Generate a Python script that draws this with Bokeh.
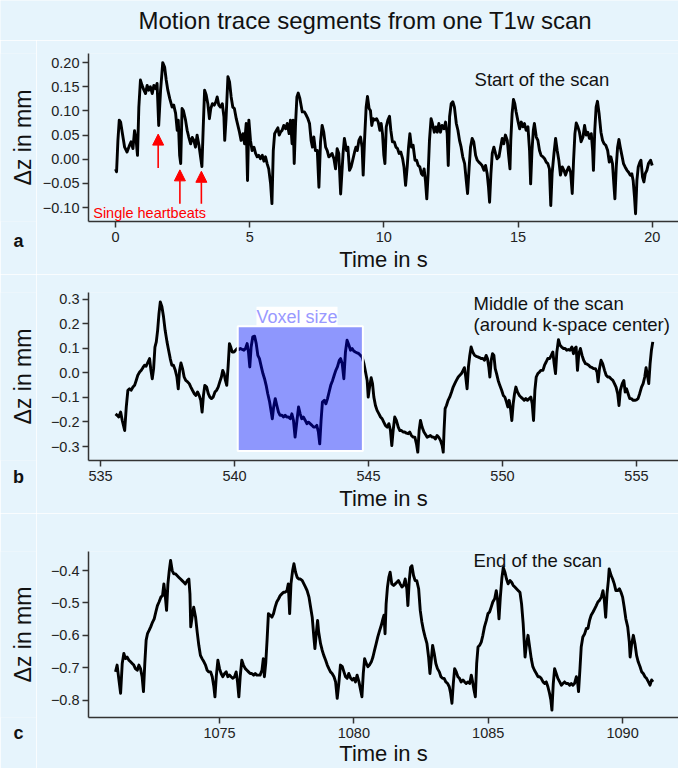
from bokeh.plotting import figure
from bokeh.layouts import column, row
from bokeh.models import (Range1d, FixedTicker, CustomJSTickFormatter, Label, Arrow,
                          NormalHead, BoxAnnotation, Plot, LinearAxis)
from bokeh.embed import file_html
from bokeh.resources import INLINE
import math

# ---------------- data ----------------
a_t = [0.00,0.04,0.09,0.14,0.19,0.25,0.34,0.43,0.51,0.58,0.65,0.71,0.77,0.82,0.87,0.93,0.99,1.06,1.12,1.18,1.24,1.30,1.37,1.43,1.50,1.55,1.61,1.68,1.73,1.76,1.83,1.89,1.95,2.02,2.11,2.17,2.24,2.30,2.34,2.39,2.43,2.48,2.53,2.61,2.67,2.73,2.80,2.86,2.92,2.98,3.04,3.11,3.17,3.22,3.27,3.32,3.38,3.44,3.50,3.55,3.61,3.68,3.74,3.79,3.85,3.91,3.98,4.04,4.07,4.12,4.19,4.25,4.31,4.37,4.43,4.50,4.56,4.62,4.68,4.75,4.81,4.87,4.92,4.97,5.03,5.09,5.16,5.22,5.28,5.34,5.40,5.47,5.53,5.59,5.65,5.71,5.78,5.83,5.88,5.93,6.00,6.05,6.10,6.15,6.21,6.27,6.34,6.40,6.47,6.52,6.58,6.62,6.66,6.71,6.76,6.81,6.87,6.96,7.04,7.11,7.17,7.23,7.29,7.34,7.39,7.45,7.52,7.58,7.64,7.70,7.76,7.83,7.89,7.95,8.01,8.07,8.14,
       8.20,8.26,8.32,8.39,8.48,8.53,8.61,8.66,8.72,8.78,8.84,8.91,8.96,9.01,9.07,9.13,9.19,9.23,9.28,9.34,9.39,9.45,9.50,9.55,9.60,9.66,9.73,9.79,9.85,9.90,9.95,10.00,10.04,10.09,10.15,10.21,10.26,10.32,10.39,10.45,10.51,10.57,10.63,10.70,10.75,10.81,10.87,10.92,10.97,11.03,11.09,11.16,11.22,11.28,11.34,11.40,11.45,11.50,11.55,11.60,11.65,11.70,11.76,11.81,11.88,11.94,11.99,12.05,12.11,12.17,12.24,12.30,12.36,12.40,12.45,12.51,12.57,12.63,12.70,12.76,12.82,12.88,12.94,13.01,13.07,13.12,13.18,13.23,13.29,13.35,13.42,13.48,13.54,13.60,13.66,13.73,13.79,13.85,13.90,13.94,13.99,14.04,14.10,14.16,14.22,14.29,14.35,14.41,14.47,14.53,14.60,14.65,14.70,14.73,14.78,14.83,14.88,14.93,14.99,15.06,15.12,15.18,15.24,15.30,15.37,15.43,15.47,15.52,15.57,15.61,15.68,15.74,15.80,15.86,15.93,15.99,16.05,16.11,16.17,16.22,16.27,16.34,16.40,16.46,16.52,16.58,16.65,16.71,16.77,16.83,16.89,16.96,17.02,17.07,17.12,17.17,17.23,17.29,17.35,17.42,17.48,17.54,17.60,17.66,17.73,17.78,17.81,17.86,17.91,17.96,18.02,18.09,18.15,18.21,18.27,18.34,18.40,18.46,18.52,18.57,18.61,18.66,18.71,18.76,18.81,18.87,18.93,18.99,19.06,19.12,19.18,19.24,19.29,19.34,19.38,19.43,19.48,19.54,19.58,19.64,19.69,19.74,19.80,19.86,19.94,20.00]
a_dz = [-0.020,-0.026,0.039,0.081,0.077,0.056,0.025,0.015,0.027,0.036,0.022,0.059,0.039,0.008,0.108,0.164,0.153,0.143,0.136,0.153,0.143,0.150,0.136,0.153,0.146,0.157,0.070,0.143,0.178,0.200,0.191,0.164,0.143,0.126,0.108,0.112,0.095,0.060,0.081,0.008,-0.009,0.105,0.101,0.081,0.060,0.046,0.032,0.045,0.039,0.025,0.050,0.029,0.005,-0.015,0.067,0.143,0.133,0.115,0.084,0.105,0.115,0.112,0.119,0.129,0.112,0.108,0.115,0.088,0.039,0.084,0.171,0.160,0.129,0.108,0.105,0.084,0.070,0.056,0.039,0.053,0.032,0.074,-0.044,0.081,0.039,0.018,0.025,0.012,0.005,0.008,0.001,0.008,-0.004,0.005,-0.009,-0.020,-0.051,-0.092,0.018,0.053,0.060,0.065,0.050,0.056,0.060,0.070,0.063,0.074,0.053,0.081,0.032,0.081,-0.009,0.074,0.129,0.137,0.126,0.098,0.098,0.091,0.084,0.074,0.039,0.025,0.046,0.018,0.018,-0.058,0.036,0.070,0.056,0.025,0.018,0.005,0.008,0.012,0.001,
        -0.020,0.022,0.012,-0.072,0.012,0.043,0.018,0.025,-0.023,-0.016,-0.002,0.015,0.025,0.018,0.039,0.046,0.025,-0.033,0.039,0.108,0.130,0.105,0.101,0.070,0.084,0.081,0.084,0.077,0.060,0.074,0.053,0.008,-0.009,0.067,0.081,0.089,0.060,0.036,0.036,0.025,0.022,0.012,0.015,0.001,-0.016,-0.054,-0.016,0.025,0.053,0.025,0.029,-0.002,-0.002,-0.013,-0.016,-0.030,-0.033,-0.020,-0.044,-0.082,-0.030,0.039,0.084,0.074,0.056,0.067,0.056,0.074,0.056,0.070,0.063,0.077,0.053,-0.013,0.088,0.115,0.119,0.108,0.074,0.060,0.039,0.025,0.005,-0.009,-0.044,-0.071,-0.016,0.025,0.043,0.036,0.008,-0.002,-0.006,-0.009,-0.013,-0.023,-0.013,-0.030,-0.058,-0.089,-0.030,0.012,0.025,0.012,0.001,0.005,0.025,0.043,0.032,0.050,0.039,0.008,-0.020,0.039,0.095,0.124,0.115,0.098,0.081,0.063,0.077,0.067,0.074,0.060,0.067,0.018,-0.051,0.018,0.060,0.074,0.046,0.039,0.018,0.008,0.005,0.001,-0.006,-0.009,-0.020,-0.096,-0.030,0.012,0.043,0.018,-0.002,-0.033,-0.016,-0.023,-0.033,-0.023,-0.016,-0.027,-0.071,-0.002,0.053,0.075,0.067,0.056,0.036,0.046,0.070,0.050,0.056,0.043,0.053,0.018,-0.023,0.060,0.108,0.120,0.095,0.056,0.039,0.032,0.029,0.018,-0.006,0.005,-0.009,-0.051,-0.082,-0.016,0.025,0.041,0.025,0.008,-0.009,-0.016,-0.023,-0.027,-0.033,-0.030,-0.044,-0.078,-0.113,-0.044,-0.016,-0.006,-0.002,-0.037,-0.047,-0.030,-0.023,-0.009,-0.002,-0.013]

b_t = [535.56,535.62,535.68,535.75,535.81,535.90,535.96,536.02,536.08,536.14,536.21,536.27,536.33,536.39,536.46,536.52,536.58,536.64,536.70,536.77,536.83,536.88,536.93,536.98,537.03,537.08,537.13,537.18,537.23,537.29,537.35,537.41,537.48,537.54,537.60,537.66,537.72,537.79,537.85,537.90,537.95,538.00,538.06,538.12,538.18,538.25,538.31,538.37,538.43,538.50,538.56,538.62,538.68,538.74,538.79,538.84,538.89,538.96,539.02,539.08,539.14,539.20,539.27,539.33,539.39,539.45,539.51,539.56,539.61,539.66,539.71,539.76,539.81,539.86,539.91,539.98,540.04,540.10,540.16,540.22,540.29,540.35,540.41,540.47,540.52,540.57,540.62,540.68,540.75,540.81,540.87,540.93,541.00,541.06,541.12,541.18,541.24,541.31,541.37,541.41,541.46,541.52,541.58,541.64,541.70,541.77,541.83,541.89,541.95,542.01,542.08,542.14,542.20,542.26,542.33,542.39,542.45,542.51,542.57,542.64,542.70,542.76,542.82,542.89,542.95,543.01,543.07,543.13,543.18,543.23,543.28,543.35,543.41,543.47,543.53,543.59,543.66,543.72,543.78,543.84,543.91,543.96,
       544.02,544.08,544.14,544.20,544.27,544.33,544.39,544.45,544.51,544.58,544.64,544.70,544.76,544.83,544.89,544.95,544.99,545.04,545.10,545.15,545.20,545.26,545.32,545.39,545.45,545.51,545.57,545.63,545.70,545.76,545.82,545.87,545.92,545.98,546.04,546.11,546.17,546.23,546.29,546.35,546.42,546.48,546.54,546.60,546.67,546.73,546.79,546.84,546.89,546.94,547.00,547.07,547.13,547.19,547.25,547.31,547.38,547.44,547.50,547.56,547.62,547.69,547.75,547.79,547.82,547.86,547.91,547.97,548.03,548.10,548.16,548.22,548.28,548.35,548.41,548.47,548.53,548.58,548.63,548.68,548.73,548.78,548.83,548.89,548.96,549.02,549.08,549.14,549.20,549.27,549.33,549.39,549.44,549.49,549.53,549.58,549.63,549.68,549.73,549.78,549.84,549.90,549.97,550.03,550.09,550.15,550.20,550.25,550.30,550.35,550.40,550.45,550.50,550.56,550.63,550.69,550.75,550.81,550.87,550.93,551.00,551.06,551.11,551.16,551.21,551.26,551.32,551.38,551.44,551.51,551.57,551.63,551.69,551.76,551.82,551.88,551.93,551.98,552.03,552.09,552.15,552.21,552.28,552.34,552.40,552.46,552.52,552.59,552.65,552.70,552.75,552.80,552.85,552.91,552.97,553.03,553.10,553.16,553.22,553.28,553.35,553.41,553.47,553.53,553.57,553.62,553.68,553.74,553.81,553.87,553.93,553.99,554.05,554.12,554.18,554.24,554.30,554.35,554.40,554.47,554.53,554.58,554.63,554.69,554.75,554.81,554.88,554.94,555.00,555.06,555.12,555.19,555.25,555.31,555.36,555.41,555.46,555.51,555.56,555.61]
b_dz = [-0.167,-0.173,-0.180,-0.160,-0.194,-0.235,-0.139,-0.071,-0.065,-0.071,-0.058,-0.051,-0.031,-0.010,0.003,0.010,0.021,0.031,0.027,0.044,0.058,0.010,-0.024,0.017,0.105,0.126,0.173,0.241,0.289,0.269,0.228,0.173,0.126,0.092,0.058,0.031,0.031,0.010,-0.017,-0.065,0.010,0.040,0.017,-0.017,-0.031,-0.037,-0.044,-0.058,-0.071,-0.085,-0.092,-0.078,-0.092,-0.112,-0.160,-0.092,-0.051,-0.058,-0.085,-0.099,-0.105,-0.099,-0.078,-0.071,-0.058,-0.037,-0.017,0.010,-0.003,-0.031,-0.051,0.024,0.119,0.105,0.085,0.085,0.092,0.099,0.095,0.099,0.095,0.092,0.099,0.119,0.085,0.024,0.105,0.146,0.149,0.119,0.071,0.058,0.024,-0.003,-0.024,-0.051,-0.085,-0.119,-0.160,-0.187,-0.139,-0.105,-0.133,-0.160,-0.173,-0.173,-0.180,-0.173,-0.180,-0.180,-0.187,-0.167,-0.194,-0.262,-0.194,-0.139,-0.167,-0.187,-0.180,-0.194,-0.207,-0.201,-0.207,-0.214,-0.221,-0.221,-0.214,-0.241,-0.289,-0.194,-0.119,-0.112,-0.126,-0.105,-0.078,-0.051,-0.031,-0.010,0.010,0.024,0.051,0.058,
        0.037,-0.024,0.085,0.133,0.112,0.092,0.099,0.089,0.085,0.081,0.078,0.071,0.065,0.037,0.003,-0.031,-0.099,-0.058,-0.020,-0.044,-0.099,-0.133,-0.153,-0.167,-0.180,-0.187,-0.201,-0.214,-0.221,-0.207,-0.235,-0.296,-0.235,-0.180,-0.194,-0.221,-0.235,-0.235,-0.241,-0.241,-0.246,-0.248,-0.241,-0.255,-0.262,-0.262,-0.289,-0.323,-0.235,-0.194,-0.221,-0.241,-0.251,-0.262,-0.259,-0.255,-0.262,-0.262,-0.269,-0.255,-0.262,-0.276,-0.296,-0.323,-0.235,-0.146,-0.133,-0.112,-0.099,-0.078,-0.058,-0.044,-0.031,-0.017,-0.010,-0.003,0.010,0.021,-0.017,-0.065,0.024,0.071,0.105,0.085,0.071,0.067,0.065,0.062,0.058,0.058,0.051,0.071,0.058,0.024,-0.017,0.051,0.078,0.071,0.017,-0.003,-0.031,-0.051,-0.071,-0.092,-0.099,-0.119,-0.139,-0.112,-0.146,-0.194,-0.126,-0.085,-0.058,-0.078,-0.092,-0.099,-0.105,-0.112,-0.105,-0.112,-0.105,-0.099,-0.126,-0.194,-0.071,-0.017,-0.003,0.003,0.010,0.010,0.031,0.044,0.058,0.058,0.071,0.085,0.037,-0.003,0.085,0.135,0.112,0.105,0.099,0.099,0.092,0.095,0.092,0.105,0.078,0.099,0.105,0.010,0.078,0.099,0.071,0.051,0.037,0.035,0.031,0.024,0.021,0.017,0.017,0.003,-0.037,0.017,0.051,0.037,0.010,-0.010,-0.017,-0.017,-0.024,-0.031,-0.044,-0.058,-0.085,-0.133,-0.071,-0.044,-0.031,-0.078,-0.065,-0.085,-0.105,-0.105,-0.112,-0.112,-0.110,-0.105,-0.085,-0.058,-0.044,-0.017,0.021,-0.010,-0.044,0.037,0.092,0.126]

c_t = [1071.13,1071.19,1071.25,1071.32,1071.38,1071.44,1071.50,1071.56,1071.63,1071.69,1071.75,1071.81,1071.87,1071.94,1072.00,1072.06,1072.12,1072.17,1072.22,1072.27,1072.32,1072.38,1072.44,1072.51,1072.57,1072.63,1072.69,1072.75,1072.82,1072.88,1072.93,1072.98,1073.03,1073.08,1073.13,1073.18,1073.24,1073.30,1073.36,1073.42,1073.49,1073.55,1073.61,1073.67,1073.73,1073.80,1073.86,1073.90,1073.93,1073.98,1074.04,1074.11,1074.17,1074.23,1074.29,1074.35,1074.42,1074.48,1074.54,1074.60,1074.67,1074.73,1074.79,1074.83,1074.88,1074.94,1075.00,1075.06,1075.12,1075.19,1075.25,1075.31,1075.37,1075.43,1075.50,1075.56,1075.62,1075.67,1075.72,1075.77,1075.83,1075.89,1075.96,1076.02,1076.08,1076.14,1076.20,1076.27,1076.33,1076.39,1076.45,1076.51,1076.58,1076.63,1076.67,1076.72,1076.77,1076.82,1076.89,1076.95,1077.01,1077.07,1077.13,1077.20,1077.26,1077.32,1077.38,1077.44,1077.51,1077.56,1077.61,1077.66,1077.72,1077.77,1077.83,1077.89,1077.95,1078.01,1078.08,1078.14,1078.20,1078.26,1078.33,1078.39,1078.45,1078.51,1078.55,1078.60,1078.65,1078.69,1078.76,1078.82,1078.88,1078.95,1079.01,1079.07,1079.13,1079.19,1079.26,1079.32,1079.38,
       1079.44,1079.50,1079.57,1079.63,1079.69,1079.75,1079.81,1079.88,1079.94,1080.00,1080.06,1080.12,1080.19,1080.25,1080.30,1080.35,1080.40,1080.46,1080.52,1080.58,1080.65,1080.71,1080.77,1080.83,1080.89,1080.96,1081.02,1081.08,1081.12,1081.16,1081.20,1081.25,1081.30,1081.35,1081.41,1081.48,1081.54,1081.60,1081.66,1081.72,1081.79,1081.85,1081.91,1081.97,1082.01,1082.06,1082.11,1082.16,1082.22,1082.28,1082.34,1082.41,1082.47,1082.53,1082.59,1082.65,1082.72,1082.78,1082.83,1082.88,1082.93,1082.99,1083.05,1083.11,1083.18,1083.24,1083.30,1083.36,1083.42,1083.49,1083.55,1083.60,1083.65,1083.70,1083.75,1083.81,1083.87,1083.93,1083.99,1084.06,1084.12,1084.18,1084.24,1084.31,1084.37,1084.42,1084.47,1084.52,1084.57,1084.62,1084.68,1084.74,1084.80,1084.86,1084.93,1084.99,1085.05,1085.11,1085.17,1085.24,1085.30,1085.35,1085.40,1085.45,1085.51,1085.56,1085.62,1085.68,1085.74,1085.81,1085.87,1085.93,1085.99,1086.05,1086.12,1086.18,1086.24,1086.30,1086.37,1086.41,1086.48,1086.54,1086.60,1086.66,1086.72,1086.79,1086.85,1086.91,1086.97,1087.04,1087.10,1087.16,1087.22,1087.28,1087.33,1087.37,1087.42,1087.47,1087.53,1087.59,1087.66,1087.72,1087.78,1087.84,1087.90,1087.97,1088.03,1088.09,1088.15,1088.21,1088.28,1088.33,1088.36,1088.41,1088.46,1088.52,1088.59,1088.65,1088.71,1088.77,1088.83,1088.90,1088.96,1089.02,1089.08,1089.14,1089.21,1089.27,1089.32,1089.37,1089.42,1089.47,1089.50,1089.57,1089.63,1089.69,1089.75,1089.81,1089.88,1089.94,1090.00,1090.06,1090.12,1090.19,1090.25,1090.28,1090.33,1090.40,1090.46,1090.52,1090.58,1090.65,1090.71,1090.77,1090.83,1090.89,1090.96,1091.02,1091.08,1091.13]
c_dz = [-0.713,-0.692,-0.733,-0.779,-0.687,-0.656,-0.672,-0.667,-0.677,-0.682,-0.687,-0.692,-0.703,-0.708,-0.692,-0.703,-0.728,-0.774,-0.687,-0.615,-0.595,-0.585,-0.574,-0.559,-0.549,-0.528,-0.508,-0.497,-0.482,-0.477,-0.441,-0.477,-0.523,-0.441,-0.400,-0.369,-0.400,-0.410,-0.410,-0.415,-0.421,-0.426,-0.431,-0.436,-0.441,-0.431,-0.426,-0.472,-0.574,-0.544,-0.513,-0.544,-0.590,-0.631,-0.662,-0.672,-0.682,-0.692,-0.708,-0.713,-0.713,-0.728,-0.759,-0.790,-0.728,-0.677,-0.703,-0.718,-0.728,-0.718,-0.713,-0.728,-0.723,-0.728,-0.733,-0.728,-0.713,-0.744,-0.790,-0.728,-0.677,-0.692,-0.703,-0.708,-0.713,-0.718,-0.718,-0.723,-0.718,-0.723,-0.723,-0.723,-0.708,-0.672,-0.728,-0.687,-0.615,-0.533,-0.538,-0.544,-0.533,-0.513,-0.497,-0.487,-0.477,-0.472,-0.467,-0.467,-0.462,-0.441,-0.533,-0.441,-0.400,-0.379,-0.405,-0.421,-0.426,-0.426,-0.431,-0.441,-0.451,-0.462,-0.482,-0.513,-0.544,-0.605,-0.641,-0.595,-0.554,-0.590,-0.626,-0.646,-0.662,-0.677,-0.692,-0.703,-0.713,-0.718,-0.728,-0.744,-0.795,
        -0.749,-0.692,-0.697,-0.713,-0.728,-0.733,-0.718,-0.733,-0.738,-0.733,-0.744,-0.723,-0.744,-0.769,-0.790,-0.718,-0.672,-0.687,-0.697,-0.692,-0.682,-0.667,-0.646,-0.626,-0.605,-0.585,-0.569,-0.549,-0.538,-0.595,-0.503,-0.451,-0.421,-0.405,-0.441,-0.446,-0.441,-0.436,-0.431,-0.441,-0.451,-0.446,-0.426,-0.456,-0.508,-0.431,-0.390,-0.385,-0.415,-0.431,-0.431,-0.456,-0.523,-0.559,-0.585,-0.605,-0.626,-0.667,-0.718,-0.677,-0.631,-0.656,-0.687,-0.703,-0.713,-0.728,-0.733,-0.733,-0.744,-0.749,-0.759,-0.779,-0.810,-0.749,-0.703,-0.713,-0.728,-0.733,-0.744,-0.738,-0.744,-0.749,-0.744,-0.749,-0.723,-0.744,-0.769,-0.790,-0.687,-0.636,-0.631,-0.621,-0.600,-0.574,-0.554,-0.533,-0.528,-0.513,-0.497,-0.487,-0.462,-0.492,-0.549,-0.482,-0.421,-0.390,-0.405,-0.426,-0.441,-0.431,-0.436,-0.446,-0.451,-0.456,-0.462,-0.467,-0.503,-0.564,-0.667,-0.636,-0.600,-0.636,-0.672,-0.697,-0.708,-0.718,-0.728,-0.728,-0.733,-0.744,-0.749,-0.744,-0.759,-0.779,-0.800,-0.831,-0.749,-0.703,-0.718,-0.733,-0.744,-0.754,-0.749,-0.744,-0.749,-0.749,-0.754,-0.749,-0.754,-0.749,-0.728,-0.749,-0.774,-0.708,-0.636,-0.605,-0.595,-0.579,-0.579,-0.554,-0.538,-0.528,-0.518,-0.508,-0.497,-0.492,-0.482,-0.462,-0.492,-0.544,-0.472,-0.431,-0.395,-0.415,-0.426,-0.441,-0.462,-0.462,-0.456,-0.467,-0.482,-0.513,-0.549,-0.574,-0.621,-0.667,-0.631,-0.600,-0.626,-0.662,-0.682,-0.697,-0.713,-0.718,-0.728,-0.733,-0.744,-0.754,-0.738,-0.744]

a_yticks = [-0.10, -0.05, 0.00, 0.05, 0.10, 0.15, 0.20]
b_yticks = [-0.3, -0.2, -0.1, 0.0, 0.1, 0.2, 0.3]
c_yticks = [-0.8, -0.7, -0.6, -0.5, -0.4]
a_xticks = [0, 5, 10, 15, 20]
b_xticks = [535, 540, 545, 550, 555]
c_xticks = [1075, 1080, 1085, 1090]

# heartbeat arrows (time, tail, head) in panel a
beat_t = [1.59, 2.40, 3.20]
beat_tail = [-0.018, -0.092, -0.092]
beat_head = [0.052, -0.022, -0.025]

# voxel-size box in panel b
voxel_t0, voxel_t1 = 540.12, 544.79
voxel_lo, voxel_hi = -0.318, 0.190

TITLE = "Motion trace segments from one T1w scan"
XLABEL = "Time in s"
YLABEL = "Δz in mm"
LETTERS = ["a", "b", "c"]

# ---------------- styling ----------------
BG = "#e6f4fc"
FONT = "Liberation Sans"
W = 678
SIDE_W = 36           # strip left of each panel (y label + panel letter)
MAIN_W = W - SIDE_W


def add_text(p, x, y, text, size, color="#111111", align="left", baseline="alphabetic",
             angle=0.0, bold=False, **kw):
    lab = Label(x=x, y=y, text=text, text_font=FONT, text_font_size=size,
                text_color=color, text_align=align, text_baseline=baseline,
                angle=angle, text_font_style="bold" if bold else "normal", **kw)
    p.add_layout(lab)
    return lab


def make_fig(height, xr, yr, top, bottom, xticks, yticks, ydec, label_standoff=2):
    p = figure(width=MAIN_W, height=height, x_range=Range1d(*xr), y_range=Range1d(*yr),
               output_backend="svg", toolbar_location=None,
               min_border_left=88 - SIDE_W, min_border_right=0,
               min_border_top=top, min_border_bottom=bottom)
    p.background_fill_color = BG
    p.border_fill_color = BG
    p.outline_line_color = None
    p.xgrid.visible = False
    p.ygrid.visible = False
    for ax in (p.xaxis[0], p.yaxis[0]):
        ax.axis_line_color = "#333333"
        ax.axis_line_width = 1.5
        ax.major_tick_line_color = "#333333"
        ax.major_tick_line_width = 1.5
        ax.major_tick_out = 6
        ax.major_tick_in = 0
        ax.minor_tick_line_color = None
        ax.major_label_text_font = FONT
        ax.major_label_text_font_size = "14.5px"
        ax.major_label_text_color = "#222222"
    p.xaxis[0].ticker = FixedTicker(ticks=xticks)
    p.yaxis[0].ticker = FixedTicker(ticks=yticks)
    p.xaxis[0].major_label_standoff = 4
    p.yaxis[0].major_label_standoff = 3
    p.yaxis[0].formatter = CustomJSTickFormatter(
        code="return tick.toFixed(%d).replace('-', '\\u2212');" % ydec)
    p.xaxis[0].axis_label = XLABEL
    p.xaxis[0].axis_label_text_font = FONT
    p.xaxis[0].axis_label_text_font_size = "22px"
    p.xaxis[0].axis_label_text_font_style = "normal"
    p.xaxis[0].axis_label_text_color = "#111111"
    p.xaxis[0].axis_label_standoff = label_standoff
    return p


def side(height, top, bottom, letter, letter_standoff):
    """Strip left of a panel: same frame as the panel; y label inside, letter as axis label."""
    s = Plot(width=SIDE_W, height=height, x_range=Range1d(0, SIDE_W), y_range=Range1d(0, 1),
             min_border_left=0, min_border_right=0, min_border_top=top, min_border_bottom=bottom,
             toolbar_location=None, output_backend="svg",
             background_fill_color=BG, border_fill_color=BG, outline_line_color=None)
    ax = LinearAxis(ticker=FixedTicker(ticks=[]), axis_line_color=None,
                    major_tick_line_color=None, minor_tick_line_color=None,
                    major_tick_out=0, major_tick_in=0, major_label_standoff=0,
                    axis_label=letter, axis_label_text_font=FONT,
                    axis_label_text_font_size="18px", axis_label_text_font_style="bold",
                    axis_label_text_color="#111111", axis_label_standoff=letter_standoff)
    s.add_layout(ax, "below")
    add_text(s, 22, 0.5, YLABEL, "23px", align="center", angle=math.pi / 2)
    return s


# ---------------- title strip ----------------
TITLE_H = 40
title_strip = Plot(width=W, height=TITLE_H, x_range=Range1d(0, W), y_range=Range1d(0, TITLE_H),
                   min_border=0, toolbar_location=None, output_backend="svg",
                   background_fill_color=BG, border_fill_color=BG, outline_line_color=None)
add_text(title_strip, 138, 20, TITLE, "24px")

# ---------------- panel a (global y 40..274) ----------------
HA = 234
pa = make_fig(HA, (-1.006, 20.98), (-0.129, 0.219), 13, 53, a_xticks, a_yticks, 2)
pa.line(a_t, a_dz, line_color="black", line_width=2.9, line_join="round")
for t, y0, y1 in zip(beat_t, beat_tail, beat_head):
    pa.add_layout(Arrow(end=NormalHead(size=11, fill_color="red", line_color="red", line_width=1),
                        x_start=t, y_start=y0, x_end=t, y_end=y1,
                        line_color="red", line_width=1.6))
add_text(pa, -0.83, -0.111, "Single heartbeats", "14.5px", color="red")
add_text(pa, 13.38, 0.165, "Start of the scan", "18.5px")
sa = side(HA, 13, 53, LETTERS[0], 9)

# ---------------- panel b (global y 274..513) ----------------
HB = 239
pb = make_fig(HB, (534.55, 556.57), (-0.357, 0.327), 18, 53, b_xticks, b_yticks, 1)
pb.line(b_t, b_dz, line_color="black", line_width=2.9, line_join="round")
pb.add_layout(BoxAnnotation(left=voxel_t0, right=voxel_t1, bottom=voxel_lo, top=voxel_hi,
                            fill_color="blue", fill_alpha=0.38,
                            line_color="white", line_alpha=1.0, line_width=2,
                            level="overlay"))
vl = add_text(pb, 540.82, 0.228, "Voxel size", "18px", color="#9999ff",
              background_fill_color="white", background_fill_alpha=1.0)
vl.level = "overlay"
add_text(pb, 548.92, 0.281, "Middle of the scan", "18.5px")
add_text(pb, 548.92, 0.195, "(around k-space center)", "18.5px")
sb = side(HB, 18, 53, LETTERS[1], 6)

# ---------------- panel c (global y 513..768) ----------------
HC = 255
pc = make_fig(HC, (1070.125, 1092.08), (-0.854, -0.341), 38, 51, c_xticks, c_yticks, 1,
              label_standoff=0)
pc.line(c_t, c_dz, line_color="black", line_width=2.9, line_join="round")
add_text(pc, 1084.45, -0.368, "End of the scan", "18.5px")
sc = side(HC, 38, 51, LETTERS[2], 5)

layout = column(title_strip, row(sa, pa), row(sb, pb), row(sc, pc), spacing=0)
open("out.html", "w").write(file_html(layout, INLINE))
